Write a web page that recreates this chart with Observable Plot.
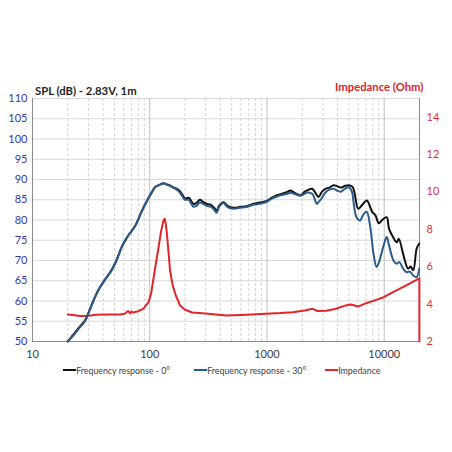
<!DOCTYPE html>
<html>
<head>
<meta charset="utf-8">
<script src="https://cdn.jsdelivr.net/npm/d3@7"></script>
<script src="https://cdn.jsdelivr.net/npm/@observablehq/plot@0.6"></script>
<style>
  html, body { margin: 0; padding: 0; background: #fff; }
  #wrap { position: relative; width: 452px; height: 452px; overflow: hidden; font-family: Lato, "Open Sans", sans-serif; }
  #wrap svg { position: absolute; left: 0; top: 0; }
  .ttl { position: absolute; font-weight: bold; font-size: 11.3px; white-space: nowrap; line-height: 1; }
  #legend { position: absolute; top: 365px; left: 0; width: 452px; font-size: 10px; color: #404040; white-space: nowrap; line-height: 1; }
  .li { position: absolute; top: 0; transform: scaleX(0.88); transform-origin: left center; }
  .sw { display: inline-block; width: 15px; height: 2px; vertical-align: middle; margin-right: 0px; position: relative; top: -1px; }
</style>
</head>
<body>
<div id="wrap">
  <div class="ttl" style="left:35px; top:85px; color:#262626;">SPL (dB) - 2.83V, 1m</div>
  <div class="ttl" style="left:335px; top:81px; color:#e0202a;">Impedance (Ohm)</div>
  <div id="legend">
    <span class="li" style="left:63px"><span class="sw" style="background:#111"></span>Frequency response - 0°</span>
    <span class="li" style="left:194px"><span class="sw" style="background:#2b5b8b"></span>Frequency response - 30°</span>
    <span class="li" style="left:325px"><span class="sw" style="background:#e3242b"></span>Impedance</span>
  </div>
</div>
<script>
// ---- data ----
const freq0 = [20,22,25,28,30,33,37,42,47,52,58,65,75,85,97,105,112,120,131,140,150,160,170,180,190,200,215,235,250,268,285,305,330,355,372,390,425,460,520,580,670,770,870,1000,1100,1215,1350,1500,1590,1700,1930,2100,2200,2430,2600,2750,2950,3150,3400,3700,4000,4260,4600,5000,5370,5600,6000,6400,7100,7900,8400,9000,9600,10500,11000,11800,12800,13300,14400,15000,16000,16800,17700,18900,19900];
const spl0 = [50,51.5,53.5,55.2,57,60,63,65.5,67.5,70,73.5,76,78.5,82,85.3,87,88.2,88.6,89.1,88.8,88.5,88,87.7,87.2,86.2,85.3,85.5,84,84.2,85,84.5,84,83.8,83,82.3,83.5,84.4,83.5,83,83.2,83.4,84,84.3,84.7,85.5,86.1,86.5,87,87.3,86.8,86.1,87,87.3,87.7,86.6,85.7,87,87.7,88,88.6,88.3,88,88.4,88.6,88.2,86.5,82.8,83.5,84.8,82,81.2,79.2,80,80.7,77.8,76,74.5,75.4,72,70,68,68.5,67.6,72.9,74.2];

const freq30 = [20,22,25,28,30,33,37,42,47,52,58,65,75,85,97,105,112,120,131,140,150,160,170,180,190,200,215,235,250,268,285,305,330,355,372,390,425,460,520,580,670,770,870,1000,1100,1215,1350,1500,1590,1700,1930,2100,2200,2430,2660,2750,2950,3150,3400,3700,4000,4260,4600,5000,5300,5500,5800,6200,6700,7100,7600,8100,8600,9000,9800,10500,11000,12000,12800,13500,14500,15500,16500,17700,18900,19900];
const spl30 = [50,51.3,53.3,55,57,60,63,65.5,67.5,70,73.5,76,78.5,82,85.3,87,88.2,88.6,89,88.7,88.4,87.9,87.5,86.8,85.8,85,85,83.3,83.5,84.3,84,83.5,83.3,82.5,81.8,83.2,84.2,83.2,82.8,83,83.2,83.8,84,84.5,85.3,85.8,86.2,86.5,86.7,86.5,86,86.5,86.8,86.5,84,84.4,85.5,86.8,87.5,87.7,87.2,87,87.7,88.1,87,84,80.7,79.9,81.5,82,78.3,71.7,68.4,69.5,73.3,75.8,73.7,70,69.2,69.6,68,67.1,67.3,66.3,65.9,68];

const freqZ = [20,23,25.5,30,35,45,56,62,64,66,68,70,72,80,88,97.6,103,107,113,119,125,131,134,137,140,145,149,157,165,181,200,230,300,445,600,980,1300,1660,2100,2450,2700,3200,3880,4700,5200,6000,7000,8300,9900,11900,14400,17400,19700,19950,19950];
const ohm = [3.45,3.4,3.36,3.38,3.43,3.44,3.45,3.5,3.6,3.62,3.5,3.6,3.55,3.62,3.75,4.1,4.6,5.27,6.2,7.05,7.9,8.48,8.57,8.3,7.77,6.7,5.8,5,4.55,3.93,3.7,3.55,3.5,3.39,3.42,3.48,3.52,3.57,3.66,3.75,3.63,3.65,3.75,3.93,3.98,3.87,4.05,4.2,4.37,4.64,4.91,5.18,5.36,5.38,2];

const xTicks = [10, 100, 1000, 10000];
const yTicks = d3.range(50, 111, 5);
const zTicks = [2, 4, 6, 8, 10, 12, 14];
const minorX = [20,30,40,50,60,70,80,90,200,300,400,500,600,700,800,900,2000,3000,4000,5000,6000,7000,8000,9000];

// impedance (2..15 Ohm) shares the frame with SPL (50..110 dB)
const zToDb = z => 50 + (z - 2) * 60 / 13;
const dbToZ = d => Math.round((d - 50) * 13 / 60 + 2);

const d0 = freq0.map((f, i) => ({f, v: spl0[i]}));
const d30 = freq30.map((f, i) => ({f, v: spl30[i]}));
const dZ = freqZ.map((f, i) => ({f, v: zToDb(ohm[i])}));

const chart = Plot.plot({
  width: 452,
  height: 392,
  marginTop: 98,
  marginLeft: 32,
  marginRight: 33,
  marginBottom: 51,
  style: {fontFamily: "Lato, 'Open Sans', sans-serif", fontSize: "11px", background: "transparent"},
  x: {type: "log", domain: [10, 20000]},
  y: {domain: [50, 110]},
  marks: [
    Plot.ruleY(yTicks, {stroke: "#d9d9d9", strokeWidth: 1}),
    Plot.ruleX(minorX, {stroke: "#d4d4d4", strokeWidth: 1, strokeDasharray: "3,2"}),
    Plot.ruleX([100, 1000, 10000], {stroke: "#bfbfbf", strokeWidth: 1}),
    Plot.ruleX([10, 20000], {stroke: "#8c8c8c", strokeWidth: 1}),
    Plot.ruleY([50], {stroke: "#8c8c8c", strokeWidth: 1}),
    Plot.axisX({ticks: xTicks, tickFormat: d => String(d), tickSize: 0, tickPadding: 9, label: null, fill: "#404040", fontSize: 11}),
    Plot.axisY({ticks: yTicks, tickSize: 0, tickPadding: 5, label: null, fill: "#3535b0", fontSize: 11}),
    Plot.axisY({anchor: "right", ticks: zTicks.map(zToDb), tickFormat: dbToZ, tickSize: 0, tickPadding: 7, label: null, fill: "#e0303a", fontSize: 11}),
    Plot.line(dZ, {x: "f", y: "v", stroke: "#e3242b", strokeWidth: 2, curve: "linear"}),
    Plot.line(d0, {x: "f", y: "v", stroke: "#111111", strokeWidth: 2, curve: "catmull-rom"}),
    Plot.line(d30, {x: "f", y: "v", stroke: "#2b5b8b", strokeWidth: 2, curve: "catmull-rom"})
  ]
});
document.getElementById("wrap").prepend(chart);
</script>
</body>
</html>
